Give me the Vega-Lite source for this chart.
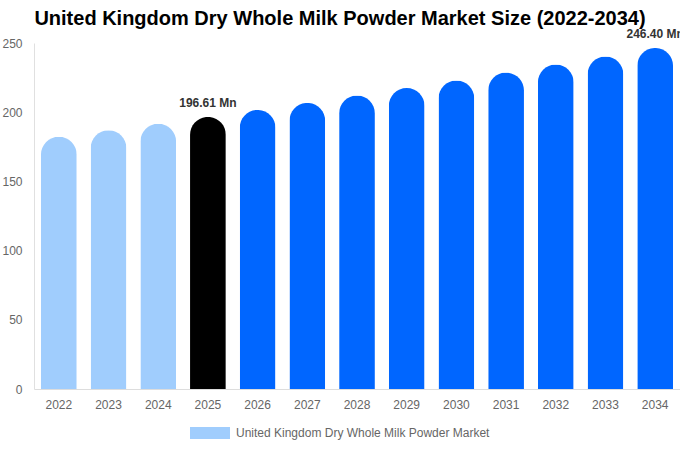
{
  "$schema": "https://vega.github.io/schema/vega-lite/v6.json",
  "width": 646,
  "height": 346,
  "autosize": {"type": "none"},
  "padding": {"left": 34, "top": 43, "right": 0, "bottom": 61},
  "title": {
    "text": "United Kingdom Dry Whole Milk Powder Market Size (2022-2034)",
    "fontSize": 20,
    "font": "Liberation Sans",
    "fontWeight": "bold",
    "color": "#000000",
    "offset": -1,
    "dx": -17
  },
  "data": {
    "values": [
      {"year": "2022", "value": 182.3, "group": "United Kingdom Dry Whole Milk Powder Market", "label": ""},
      {"year": "2023", "value": 187.0, "group": "United Kingdom Dry Whole Milk Powder Market", "label": ""},
      {"year": "2024", "value": 191.7, "group": "United Kingdom Dry Whole Milk Powder Market", "label": ""},
      {"year": "2025", "value": 196.61, "group": "current", "label": "196.61 Mn"},
      {"year": "2026", "value": 201.6, "group": "forecast", "label": ""},
      {"year": "2027", "value": 206.7, "group": "forecast", "label": ""},
      {"year": "2028", "value": 212.0, "group": "forecast", "label": ""},
      {"year": "2029", "value": 217.4, "group": "forecast", "label": ""},
      {"year": "2030", "value": 222.9, "group": "forecast", "label": ""},
      {"year": "2031", "value": 228.6, "group": "forecast", "label": ""},
      {"year": "2032", "value": 234.4, "group": "forecast", "label": ""},
      {"year": "2033", "value": 240.3, "group": "forecast", "label": ""},
      {"year": "2034", "value": 246.4, "group": "forecast", "label": "246.40 Mn"}
    ]
  },
  "encoding": {
    "x": {
      "field": "year",
      "type": "ordinal",
      "title": null,
      "scale": {"paddingInner": 0.28, "paddingOuter": 0.14},
      "axis": {
        "labelAngle": 0,
        "ticks": false,
        "labelPadding": 10,
        "labelFontSize": 12,
        "labelColor": "#666666",
        "labelFont": "Liberation Sans",
        "domainColor": "#dddddd"
      }
    },
    "y": {
      "field": "value",
      "type": "quantitative",
      "title": null,
      "scale": {"domain": [0, 250]},
      "axis": {
        "values": [0, 50, 100, 150, 200, 250],
        "grid": false,
        "ticks": false,
        "labelPadding": 12,
        "labelFontSize": 12,
        "labelColor": "#666666",
        "labelFont": "Liberation Sans",
        "domainColor": "#e0e0e0"
      }
    }
  },
  "layer": [
    {
      "mark": {"type": "bar", "cornerRadiusTopLeft": 18, "cornerRadiusTopRight": 18},
      "encoding": {
        "color": {
          "field": "group",
          "type": "nominal",
          "scale": {
            "domain": ["United Kingdom Dry Whole Milk Powder Market", "current", "forecast"],
            "range": ["#a0cdfd", "#000000", "#0066ff"]
          },
          "legend": {
            "values": ["United Kingdom Dry Whole Milk Powder Market"],
            "orient": "none",
            "legendX": 156,
            "legendY": 370,
            "direction": "horizontal",
            "title": null,
            "symbolType": "M-1,-0.3H1V0.3H-1Z",
            "symbolSize": 1600,
            "symbolStrokeWidth": 0,
            "symbolOpacity": 1,
            "labelFontSize": 12,
            "labelColor": "#666666",
            "labelFont": "Liberation Sans",
            "labelOffset": 6,
            "labelLimit": 400
          }
        }
      }
    },
    {
      "transform": [{"filter": "datum.label != ''"}],
      "mark": {
        "type": "text",
        "dy": -14,
        "fontSize": 12,
        "fontWeight": "bold",
        "font": "Liberation Sans",
        "color": "#333333"
      },
      "encoding": {"text": {"field": "label"}}
    }
  ],
  "config": {
    "view": {"stroke": null}
  }
}
